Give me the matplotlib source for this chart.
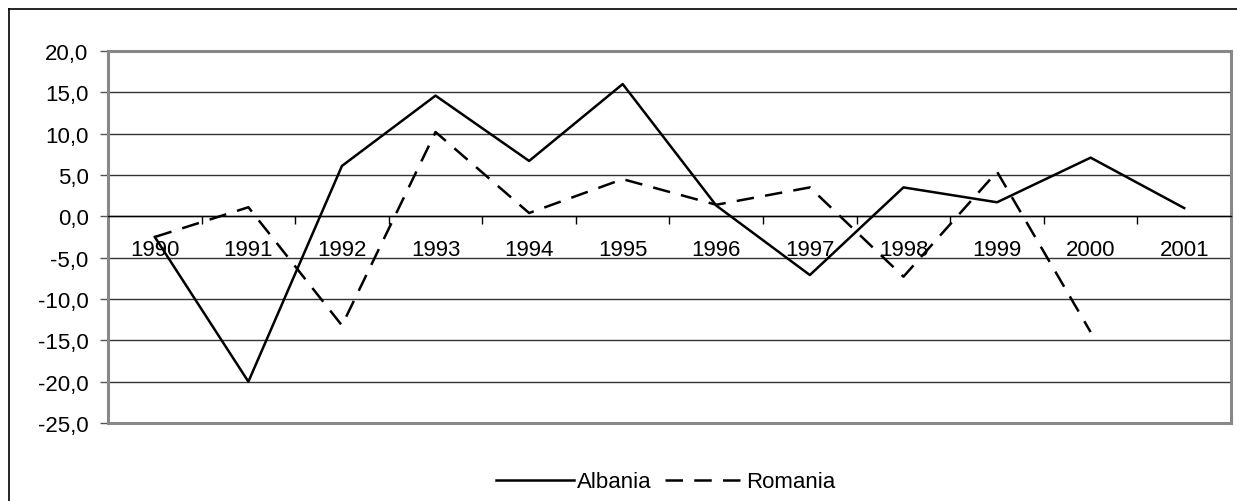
import matplotlib.pyplot as plt
from matplotlib.lines import Line2D
from matplotlib.ticker import FuncFormatter, FixedLocator

years = ['1990', '1991', '1992', '1993', '1994', '1995', '1996',
         '1997', '1998', '1999', '2000', '2001']
albania = [-2.5, -20.0, 6.1, 14.6, 6.7, 16.0, 1.3, -7.1, 3.5, 1.7, 7.1, 1.0]
romania = [-2.5, 1.1, -13.2, 10.2, 0.4, 4.5, 1.4, 3.5, -7.3, 5.4, -14.0]

plt.rcParams['font.family'] = ['Liberation Sans', 'DejaVu Sans']

W, H = 1237, 502
fig = plt.figure(figsize=(W / 100, H / 100), dpi=100)
ax = fig.add_axes([108 / W, 1 - 424 / H, (1231 - 108) / W, (424 - 52) / H])

x = list(range(len(years)))
ax.plot(x, albania, color='black', lw=1.8, label='Albania')
ax.plot(x[:len(romania)], romania, color='black', lw=1.8,
        dashes=(7, 4.5), label='Romania')

ax.set_xlim(-0.5, len(years) - 0.5)
ax.set_ylim(-25, 20)
ax.set_yticks(range(-25, 21, 5))
ax.yaxis.set_major_formatter(FuncFormatter(lambda v, p: f'{v:.1f}'.replace('.', ',')))
ax.yaxis.grid(True, color='#333333', lw=1.0)
ax.set_axisbelow(True)

# category axis crossing at zero
ax.spines['bottom'].set_position(('data', 0))
ax.spines['bottom'].set_color('black')
ax.spines['bottom'].set_linewidth(1.0)
ax.xaxis.set_major_locator(FixedLocator([i + 0.5 for i in range(len(years) - 1)]))
ax.xaxis.set_minor_locator(FixedLocator(x))
ax.set_xticklabels([], minor=False)
ax.set_xticklabels(years, minor=True)
ax.tick_params(axis='x', which='major', direction='out', length=6, width=1)
ax.tick_params(axis='x', which='minor', length=0, pad=16, labelsize=16)
ax.tick_params(axis='y', direction='out', length=6, width=1, pad=8,
               labelsize=16, color='#555555')
ax.axhline(-25, color='#888888', lw=2.2, zorder=3, clip_on=False)
for s in ['left', 'top', 'right']:
    ax.spines[s].set_color('#888888')
    ax.spines[s].set_linewidth(2.2)

# outer chart border
fig.add_artist(Line2D([9 / W, 9 / W], [0, 1 - 10 / H], color='black', lw=1.2))
fig.add_artist(Line2D([9 / W, 1], [1 - 10 / H, 1 - 10 / H], color='black', lw=1.2))

fig.legend(loc='center', bbox_to_anchor=(666 / W, 1 - 483 / H), ncol=2,
           frameon=False, fontsize=16, handlelength=3.5,
           handletextpad=0.15, columnspacing=0.6)

fig.savefig('out.png', dpi=100)
